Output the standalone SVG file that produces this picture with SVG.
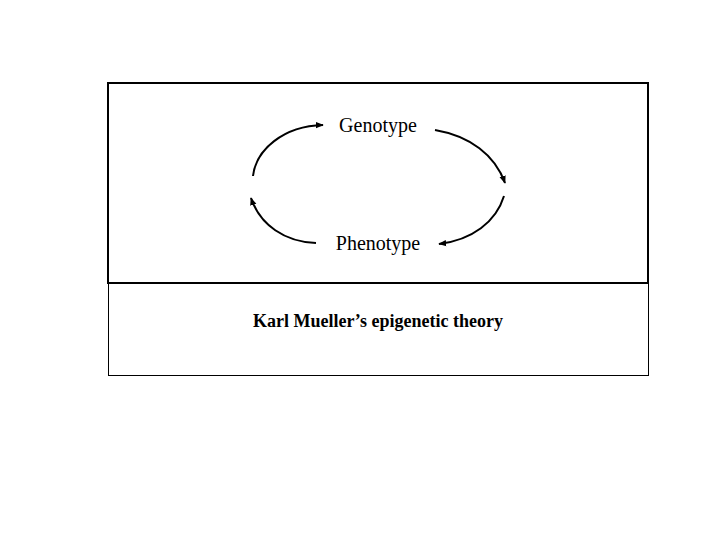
<svg xmlns="http://www.w3.org/2000/svg" width="720" height="540" viewBox="0 0 720 540">
<style>
.lbl{font-family:"Liberation Serif","Times New Roman",serif;font-size:20px;fill:#000;text-anchor:middle}
.ttl{font-family:"Liberation Serif","Times New Roman",serif;font-size:18px;font-weight:bold;fill:#000;text-anchor:middle}
.arc{fill:none;stroke:#000;stroke-width:2;marker-end:url(#ah)}
</style>
<defs>
<marker id="ah" viewBox="0 0 10 10" refX="9" refY="5" markerWidth="4" markerHeight="4" orient="auto" markerUnits="strokeWidth">
<path d="M0,1 L10,5 L0,9 Z" fill="#000"/>
</marker>
</defs>
<rect width="720" height="540" fill="#fff"/>
<g id="caption-box">
<rect x="108.5" y="283.5" width="540" height="92" fill="none" stroke="#000" stroke-width="1"/>
<text class="ttl" x="378" y="327">Karl Mueller’s epigenetic theory</text>
</g>
<g id="diagram-box">
<rect x="108" y="83" width="540" height="200" fill="none" stroke="#000" stroke-width="2"/>
</g>
<g id="genotype">
<text class="lbl" x="378" y="132">Genotype</text>
</g>
<g id="phenotype">
<text class="lbl" x="378" y="250">Phenotype</text>
</g>
<g id="connectors">
<path class="arc" d="M253,176 C256,150 283,126 323,125"/>
<path class="arc" d="M435,130 C470,136 495,155 505,183"/>
<path class="arc" d="M504,196 C496,222 472,240 439,244"/>
<path class="arc" d="M316,243 C285,242 260,225 251,198"/>
</g>
</svg>
